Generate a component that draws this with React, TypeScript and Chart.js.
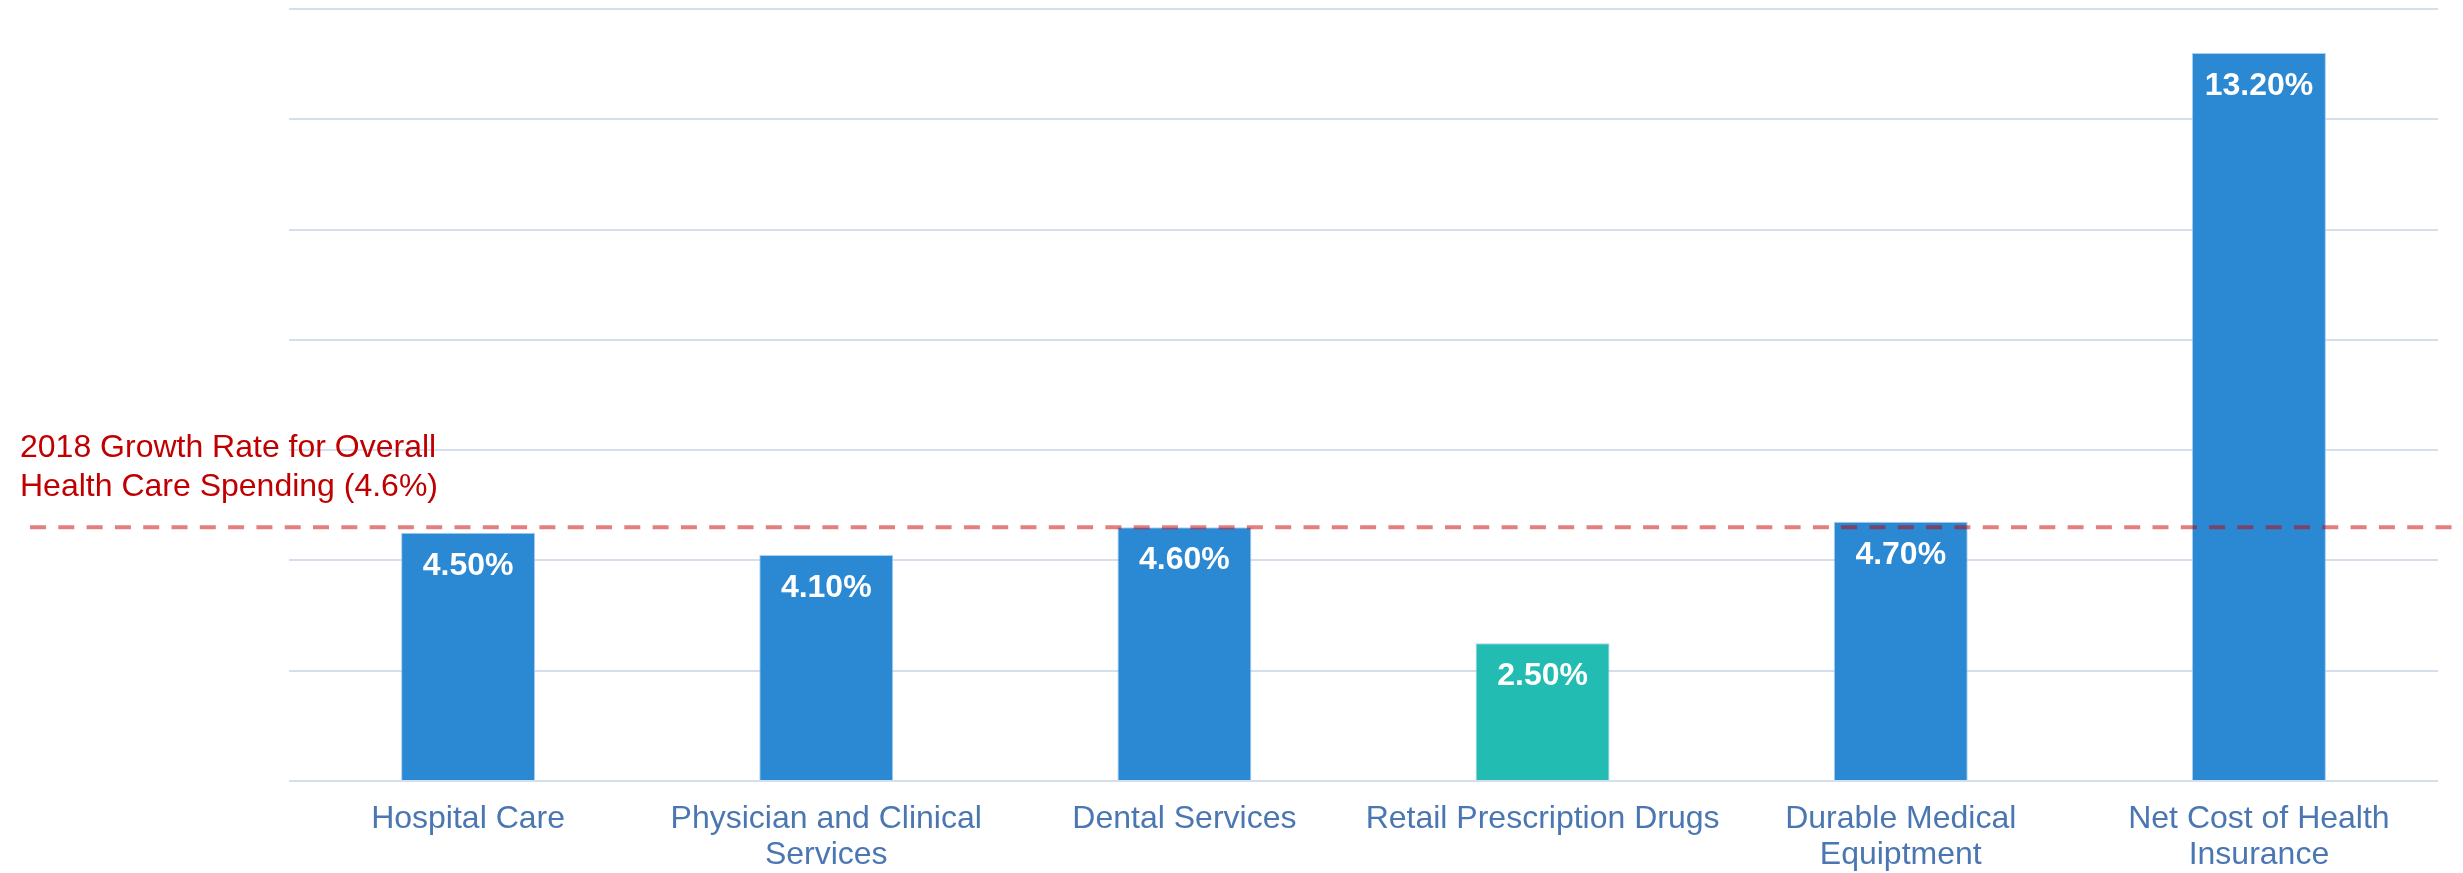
import React, { useEffect, useRef } from "react";
import { Chart, registerables } from "chart.js";

Chart.register(...registerables);

const categories: (string | string[])[] = [
  "Hospital Care",
  ["Physician and Clinical", "Services"],
  "Dental Services",
  "Retail Prescription Drugs",
  ["Durable Medical", "Equiptment"],
  ["Net Cost of Health", "Insurance"],
];
const growthRates = [4.5, 4.1, 4.6, 2.5, 4.7, 13.2];
const barColors = ["#2B88D2", "#2B88D2", "#2B88D2", "#22BCB2", "#2B88D2", "#2B88D2"];
const overallRate = 4.6;
const annotationLines = ["2018 Growth Rate for Overall", "Health Care Spending (4.6%)"];
const yMin = 0;
const yMax = 14;
const yStep = 2;

const FONT = "'Liberation Sans', Arial, sans-serif";

const overlayPlugin = {
  id: "overlay",
  afterDatasetsDraw(chart: any) {
    const ctx = chart.ctx;
    const meta = chart.getDatasetMeta(0);
    const ds = chart.data.datasets[0];
    ctx.save();
    // value labels
    ctx.fillStyle = "#FFFFFF";
    ctx.font = `bold 32px ${FONT}`;
    ctx.textAlign = "center";
    ctx.textBaseline = "middle";
    meta.data.forEach((bar: any, i: number) => {
      const v = ds.data[i] as number;
      ctx.fillText(v.toFixed(2) + "%", bar.x, bar.y + 33);
    });
    // reference line
    const y = chart.scales.y.getPixelForValue(overallRate);
    ctx.strokeStyle = "rgba(200,0,0,0.5)";
    ctx.lineWidth = 4;
    ctx.setLineDash([16, 12.3]);
    ctx.beginPath();
    ctx.moveTo(30, y);
    ctx.lineTo(chart.width, y);
    ctx.stroke();
    ctx.setLineDash([]);
    // annotation text
    ctx.fillStyle = "#C00000";
    ctx.font = `32px ${FONT}`;
    ctx.textAlign = "left";
    ctx.textBaseline = "middle";
    ctx.fillText(annotationLines[0], 20, y - 79);
    ctx.fillText(annotationLines[1], 20, y - 40);
    ctx.restore();
  },
};

export default function App() {
  const canvasRef = useRef<HTMLCanvasElement | null>(null);

  useEffect(() => {
    if (!canvasRef.current) return;
    const chart = new Chart(canvasRef.current, {
      type: "bar",
      data: {
        labels: categories as any,
        datasets: [
          {
            data: growthRates,
            backgroundColor: barColors,
            borderColor: "rgba(150,195,235,0.8)",
            borderWidth: 1,
            categoryPercentage: 1,
            barPercentage: 0.374,
          },
        ],
      },
      options: {
        responsive: false,
        animation: false,
        devicePixelRatio: 1,
        layout: { padding: { left: 289, right: 25, top: 9, bottom: 0 } },
        plugins: {
          legend: { display: false },
          tooltip: { enabled: false },
          title: { display: false },
        },
        scales: {
          x: {
            grid: { display: false, drawTicks: false },
            border: { display: false },
            ticks: {
              color: "#4A76B2",
              font: { family: FONT, size: 32, lineHeight: 1.125 },
              padding: 20,
              maxRotation: 0,
              minRotation: 0,
              autoSkip: false,
            },
            afterFit: (scale: any) => {
              scale.height = 92;
            },
          },
          y: {
            min: yMin,
            max: yMax,
            ticks: { display: false, stepSize: yStep },
            grid: { color: "#D4DEEC", lineWidth: 2, drawTicks: false },
            border: { display: false },
            afterFit: (scale: any) => {
              scale.width = 0;
            },
          },
        },
      },
      plugins: [overlayPlugin],
    });
    return () => chart.destroy();
  }, []);

  return (
    <div style={{ position: "fixed", left: 0, top: 0, width: 2463, height: 873, background: "#FFFFFF" }}>
      <canvas ref={canvasRef} width={2463} height={873} style={{ display: "block" }} />
    </div>
  );
}
